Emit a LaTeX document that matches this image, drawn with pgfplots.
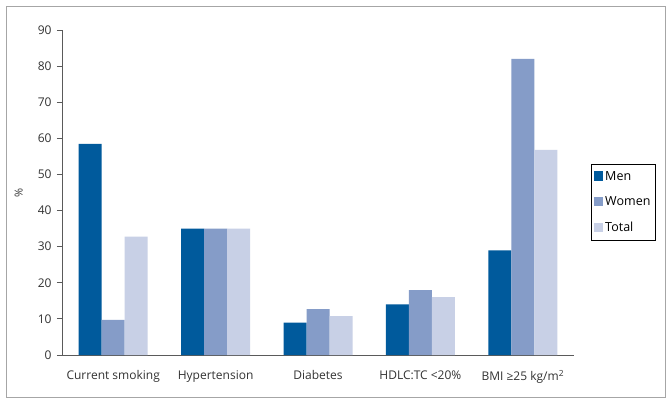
\documentclass[border=0pt]{standalone}
\usepackage{pgfplots}
\pgfplotsset{compat=1.18}
\usepackage{fontspec}
\setmainfont{Open Sans}
\definecolor{men}{RGB}{0,90,156}
\definecolor{women}{RGB}{133,156,200}
\definecolor{total}{RGB}{200,208,230}
\definecolor{axgray}{RGB}{90,90,90}
\begin{document}
\begin{tikzpicture}
\fill[white] (0,0) rectangle (672bp,-403bp);
\draw[gray!70, line width=0.8bp] (6bp,-6bp) rectangle (665bp,-397bp);
\begin{axis}[
  at={(62bp,-355bp)}, anchor=south west,
  scale only axis, width=512bp, height=325bp,
  ybar=0pt, bar width=23bp,
  xmin=-0.5, xmax=4.5, ymin=0, ymax=90,
  axis x line=bottom, axis y line=left,
  axis line style={-, axgray, line width=0.8bp},
  xtick={0,1,2,3,4},
  xticklabels={Current smoking, Hypertension, Diabetes, HDLC:TC <20\%, BMI ≥25 kg/m\textsuperscript{2}},
  major x tick style={draw=none},
  extra x ticks={-0.5,0.5,1.5,2.5,3.5,4.5},
  extra x tick labels={},
  extra x tick style={major tick length=7bp, tick align=outside, tick style={axgray, line width=0.8bp}},
  ytick={0,10,...,90},
  major tick length=5bp, tick align=outside,
  y tick style={axgray, line width=0.8bp},
  ticklabel style={font=\fontsize{12bp}{14bp}\selectfont, text=black!80},
  x tick label style={yshift=-7bp},
  y tick label style={xshift=-2bp},
  /pgf/number format/assume math mode=true,
  ylabel={\%}, ylabel style={font=\fontsize{11bp}{12bp}\selectfont, text=black!80, at={(axis description cs:-0.07,0.5)}},
  legend style={at={(rel axis cs:1.033,0.588)}, anchor=north west, draw=black, line width=0.7bp,
    font=\fontsize{12.5bp}{14bp}\selectfont, row sep=11bp, inner xsep=3bp, inner ysep=5bp},
  legend cell align=left,
  legend image code/.code={\fill[#1] (1bp,-4.5bp) rectangle (10bp,5bp);},
]
\addplot[fill=men, draw=none] coordinates {(0,58.5) (1,35) (2,9) (3,14) (4,29)};
\addplot[fill=women, draw=none] coordinates {(0,9.7) (1,35) (2,12.7) (3,18) (4,82)};
\addplot[fill=total, draw=none] coordinates {(0,32.8) (1,35) (2,10.8) (3,16) (4,56.8)};
\legend{Men, Women, Total}
\end{axis}
\end{tikzpicture}
\end{document}
